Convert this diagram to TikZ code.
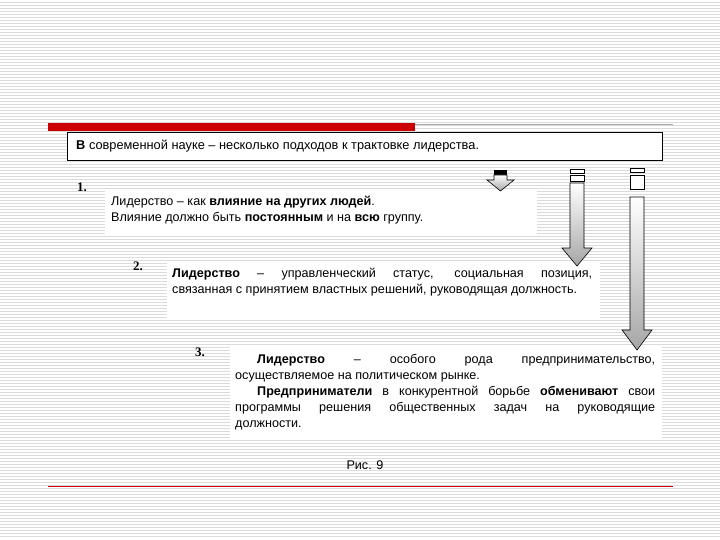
\documentclass[tikz,border=0pt]{standalone}
\usepackage{fontspec}
\setmainfont{Liberation Sans}
\newfontfamily\numfont{Liberation Serif}
\begin{document}
\begin{tikzpicture}[x=1pt,y=-1pt,
  txt/.style={font=\fontsize{12.6}{16}\selectfont,align=justify,anchor=north west,inner sep=0pt},
  wbox/.style={fill=white,draw=none},
  num/.style={font=\numfont\bfseries\fontsize{13}{14}\selectfont,anchor=west,inner sep=0pt},
  shaft/.style={draw=black,line width=0.6pt,top color=white,bottom color=gray!70},
  plain/.style={draw=black,line width=0.6pt,fill=white}]
\useasboundingbox (0,0) rectangle (720,540);
\fill[white] (0,0) rectangle (720,540);
\foreach \y in {2,5,...,538} \draw[gray!28,line width=0.5pt] (0,\y) -- (720,\y);
% top bars
\draw[gray!70,line width=0.6pt] (48,124) -- (673,124);
\fill[red!80!black] (48,123) rectangle (415,131);
\draw[red!80!black,line width=0.8pt] (48,486) -- (673,486);
% header
\node[draw=black,line width=1.4pt,fill=white,minimum width=595pt,minimum height=28pt,anchor=north west,inner sep=0pt] (h) at (67,132) {};
\node[anchor=west,inner sep=0pt,font=\fontsize{12.8}{14}\selectfont] (ht) at (76,146) {\textbf{В} современной науке – несколько подходов к трактовке лидерства.};
% boxes
\fill[wbox] (105,190) rectangle (537,235);
\fill[wbox] (167,262) rectangle (600,318);
\fill[wbox] (230,345) rectangle (662,440);
\node[num] (n1) at (77,187) {1.};
\node[num] (n2) at (133,266) {2.};
\node[num] (n3) at (195,352) {3.};
\node[txt,text width=420pt] (t1) at (111,196) {Лидерство – как \textbf{влияние на других людей}.\\Влияние должно быть \textbf{постоянным} и на \textbf{всю} группу.};
\node[txt,text width=420pt] (t2) at (172,268) {\textbf{Лидерство} – управленческий статус, социальная позиция,\linebreak связанная с принятием властных решений, руководящая должность.};
\node[txt,text width=420pt] (t3) at (235,354) {\hspace*{22pt}\textbf{Лидерство} – особого рода предпринимательство,\linebreak осуществляемое на политическом рынке.\par\hspace*{22pt}\textbf{Предприниматели} в конкурентной борьбе \textbf{обменивают} свои\linebreak программы решения общественных задач на руководящие\linebreak должности.};
\node[inner sep=0pt,font=\fontsize{12.6}{14}\selectfont] (cap) at (365,465) {Рис. 9};
% arrow 1
\fill[black] (494,170) rectangle (507,175);
\draw[shaft] (494,175) -- (507,175) -- (507,180) -- (514,180) -- (500.5,191) -- (487,180) -- (494,180) -- cycle;
% arrow 2
\draw[plain] (570,169) rectangle (584,173);
\draw[plain] (570,175) rectangle (584,181);
\draw[shaft] (570,183) -- (584,183) -- (584,248) -- (592,248) -- (577,266) -- (562,248) -- (570,248) -- cycle;
% arrow 3
\draw[plain] (630,168) rectangle (644,172);
\draw[plain] (630,175) rectangle (644,189);
\draw[shaft] (630,197) -- (644,197) -- (644,330) -- (652,330) -- (637,350) -- (622,330) -- (630,330) -- cycle;
\end{tikzpicture}
\end{document}
